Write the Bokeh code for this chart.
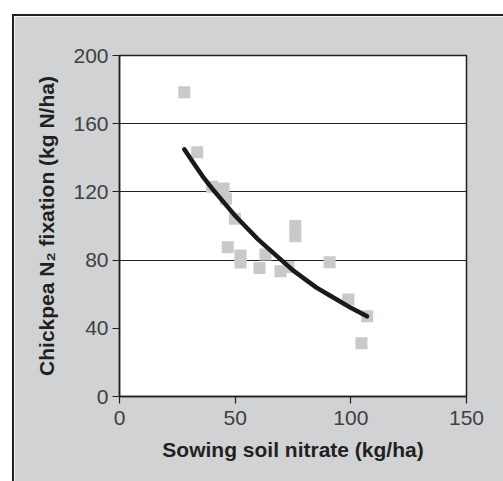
from bokeh.plotting import figure
from bokeh.models import FixedTicker, Range1d, ColumnDataSource
from bokeh.embed import file_html
from bokeh.resources import INLINE

# Data
nitrate = [28, 33.6, 40, 45, 46, 46.8, 49.9, 52.3, 52.3, 60.5, 63.1, 69.6, 73, 76, 76, 90.8, 98.9, 104.6, 107.1]
fixation = [178.5, 143.3, 123, 122, 116, 87.6, 104.2, 82.7, 78.6, 75.3, 83.3, 73.5, 76, 100, 94, 78.8, 56.9, 31.3, 47.1]

fit_x = [28, 32, 36, 40, 45, 50, 55, 60, 65, 70, 75, 80, 85, 90, 95, 100, 107]
fit_y = [145, 137, 129, 122, 114, 106, 99, 92, 86, 80, 74, 69, 64, 60, 56, 52, 47]

x_ticks = [0, 50, 100, 150]
y_ticks = [0, 40, 80, 120, 160, 200]
grid_y = [80, 120, 160, 200]

GREY_BG = "#d1d2d4"
DARK = "#231f20"
FONT = "Liberation Sans"

p = figure(
    output_backend="svg", toolbar_location=None,
    width=489, height=465,
    frame_width=347, frame_height=341,
    min_border_left=105, min_border_right=37,
    min_border_top=39, min_border_bottom=85,
    x_range=Range1d(0, 150), y_range=Range1d(0, 200),
)
p.styles = {"margin-left": "12px", "margin-top": "14px",
            "border-left": f"2px solid {DARK}", "border-top": f"2px solid {DARK}"}

p.background_fill_color = "white"
p.border_fill_color = GREY_BG
p.outline_line_color = DARK
p.outline_line_width = 1.5

p.xgrid.visible = False
p.ygrid.ticker = FixedTicker(ticks=grid_y)
p.ygrid.grid_line_color = DARK
p.ygrid.grid_line_width = 1

for ax, ticks in ((p.xaxis[0], x_ticks), (p.yaxis[0], y_ticks)):
    ax.ticker = FixedTicker(ticks=ticks)
    ax.minor_tick_line_color = None
    ax.major_tick_in = 0
    ax.major_tick_out = 7
    ax.major_tick_line_color = DARK
    ax.major_tick_line_width = 1.2
    ax.axis_line_color = DARK
    ax.axis_line_width = 1.5
    ax.major_label_text_font = FONT
    ax.major_label_text_font_size = "21px"
    ax.major_label_text_color = "#404040"
    ax.axis_label_text_font = FONT
    ax.axis_label_text_font_size = "21px"
    ax.axis_label_text_font_style = "bold"
    ax.axis_label_text_color = DARK

p.xaxis.axis_label = "Sowing soil nitrate (kg/ha)"
p.yaxis.axis_label = "Chickpea N\u2082 fixation (kg N/ha)"
p.xaxis.major_label_standoff = 7
p.yaxis.major_label_standoff = 4
p.xaxis.axis_label_standoff = 10
p.yaxis.axis_label_standoff = 12

src = ColumnDataSource(dict(x=nitrate, y=fixation))
p.scatter("x", "y", source=src, marker="square", size=12,
          fill_color="#c8c9cb", line_color=None)

p.line(fit_x, fit_y, line_color="#1a1a1a", line_width=4.5, line_cap="round")

open("out.html", "w").write(file_html(p, INLINE))
